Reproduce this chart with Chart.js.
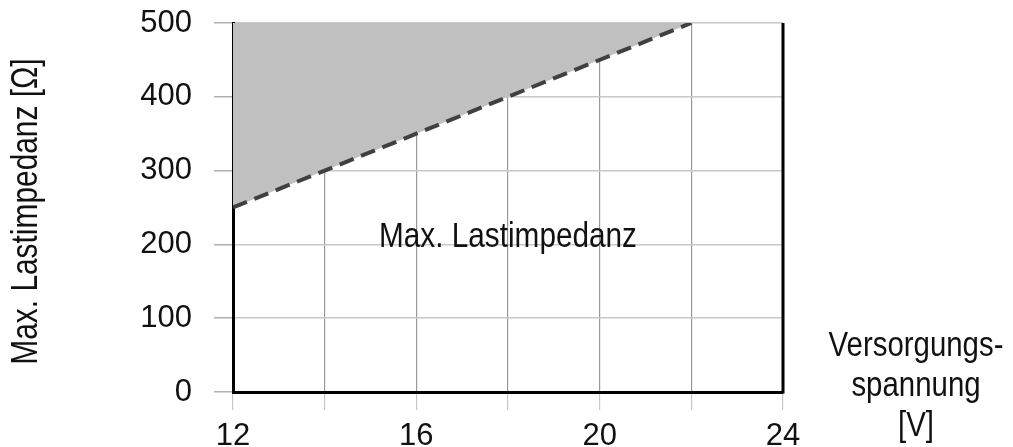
<!DOCTYPE html>
<html>
<head>
<meta charset="utf-8">
<script src="https://cdn.jsdelivr.net/npm/chart.js@4"></script>
<style>
  html, body { margin: 0; padding: 0; background: #fff; }
  #wrap { width: 1013px; height: 447px; }
</style>
</head>
<body>
<div id="wrap"><canvas id="lastChart"></canvas></div>
<script>
// supply voltage [V] and max load impedance [Ohm] of the limit line
const spannung = [12, 22];
const lastimpedanz = [250, 500];
const xTicks = [12, 16, 20, 24];
const yTicks = [0, 100, 200, 300, 400, 500];
const areaLabel = "Max. Lastimpedanz";
const areaLabelPos = [18, 209];
const xTitle = ["Versorgungs-", "spannung", "[V]"];
const yTitle = "Max. Lastimpedanz [Ω]";

const sans = "'Liberation Sans', Arial, sans-serif";

// condensed text (no narrow font installed, so squeeze it)
function narrowText(ctx, text, x, y, squeeze) {
  ctx.save();
  ctx.translate(x, y);
  ctx.scale(squeeze, 1);
  ctx.fillText(text, 0, 0);
  ctx.restore();
}

const extras = {
  id: "extras",
  afterDatasetsDraw(chart) {
    const ctx = chart.ctx;
    const area = chart.chartArea;
    const x = chart.scales.x, y = chart.scales.y;
    ctx.save();
    // right frame line
    ctx.strokeStyle = "#000";
    ctx.lineWidth = 3;
    ctx.beginPath();
    ctx.moveTo(area.right, area.top);
    ctx.lineTo(area.right, area.bottom + 1.5);
    ctx.stroke();

    ctx.fillStyle = "#111";
    ctx.font = "35px " + sans;
    ctx.textAlign = "center";
    ctx.textBaseline = "middle";
    // label inside the plot
    narrowText(ctx, areaLabel, x.getPixelForValue(areaLabelPos[0]), y.getPixelForValue(areaLabelPos[1]), 0.85);
    // x axis title at the right
    xTitle.forEach((t, i) => narrowText(ctx, t, 916, 346 + i * 40, 0.84));
    // y axis title, rotated
    ctx.font = "36px " + sans;
    ctx.save();
    ctx.translate(27, (area.top + area.bottom) / 2 + 4);
    ctx.rotate(-Math.PI / 2);
    narrowText(ctx, yTitle, 0, 0, 0.83);
    ctx.restore();
    ctx.restore();
  }
};

new Chart(document.getElementById("lastChart"), {
  type: "line",
  data: {
    datasets: [{
      data: spannung.map((v, i) => ({ x: v, y: lastimpedanz[i] })),
      borderColor: "#404040",
      borderWidth: 4,
      borderDash: [15, 8],
      backgroundColor: "#c0c0c0",
      fill: "end",
      pointRadius: 0,
      tension: 0
    }]
  },
  options: {
    responsive: true,
    maintainAspectRatio: false,
    animation: false,
    layout: { padding: { left: 0, right: 230, top: 23, bottom: 0 } },
    plugins: { legend: { display: false }, tooltip: { enabled: false } },
    scales: {
      x: {
        type: "linear",
        min: 12,
        max: 24,
        afterFit: (s) => { s.height = 55; s.paddingLeft = 0; s.paddingRight = 0; },
        ticks: {
          stepSize: 2,
          padding: 8,
          color: "#111",
          font: { family: sans, size: 31 },
          callback: (v) => (xTicks.includes(v) ? String(v) : "")
        },
        grid: { color: "#9a9a9a", lineWidth: 1.2, tickLength: 18, tickColor: "#c8c8c8" },
        border: { color: "#000", width: 3 }
      },
      y: {
        min: 0,
        max: 500,
        afterFit: (s) => { s.width = 233; s.paddingTop = 0; s.paddingBottom = 0; },
        ticks: {
          stepSize: 100,
          padding: 22,
          color: "#111",
          font: { family: sans, size: 31 },
          callback: (v) => (yTicks.includes(v) ? String(v) : "")
        },
        grid: { color: "#c8c8c8", lineWidth: 1.5, tickLength: 19, tickColor: "#b0b0b0" },
        border: { color: "#000", width: 3 }
      }
    }
  },
  plugins: [extras]
});
</script>
</body>
</html>
